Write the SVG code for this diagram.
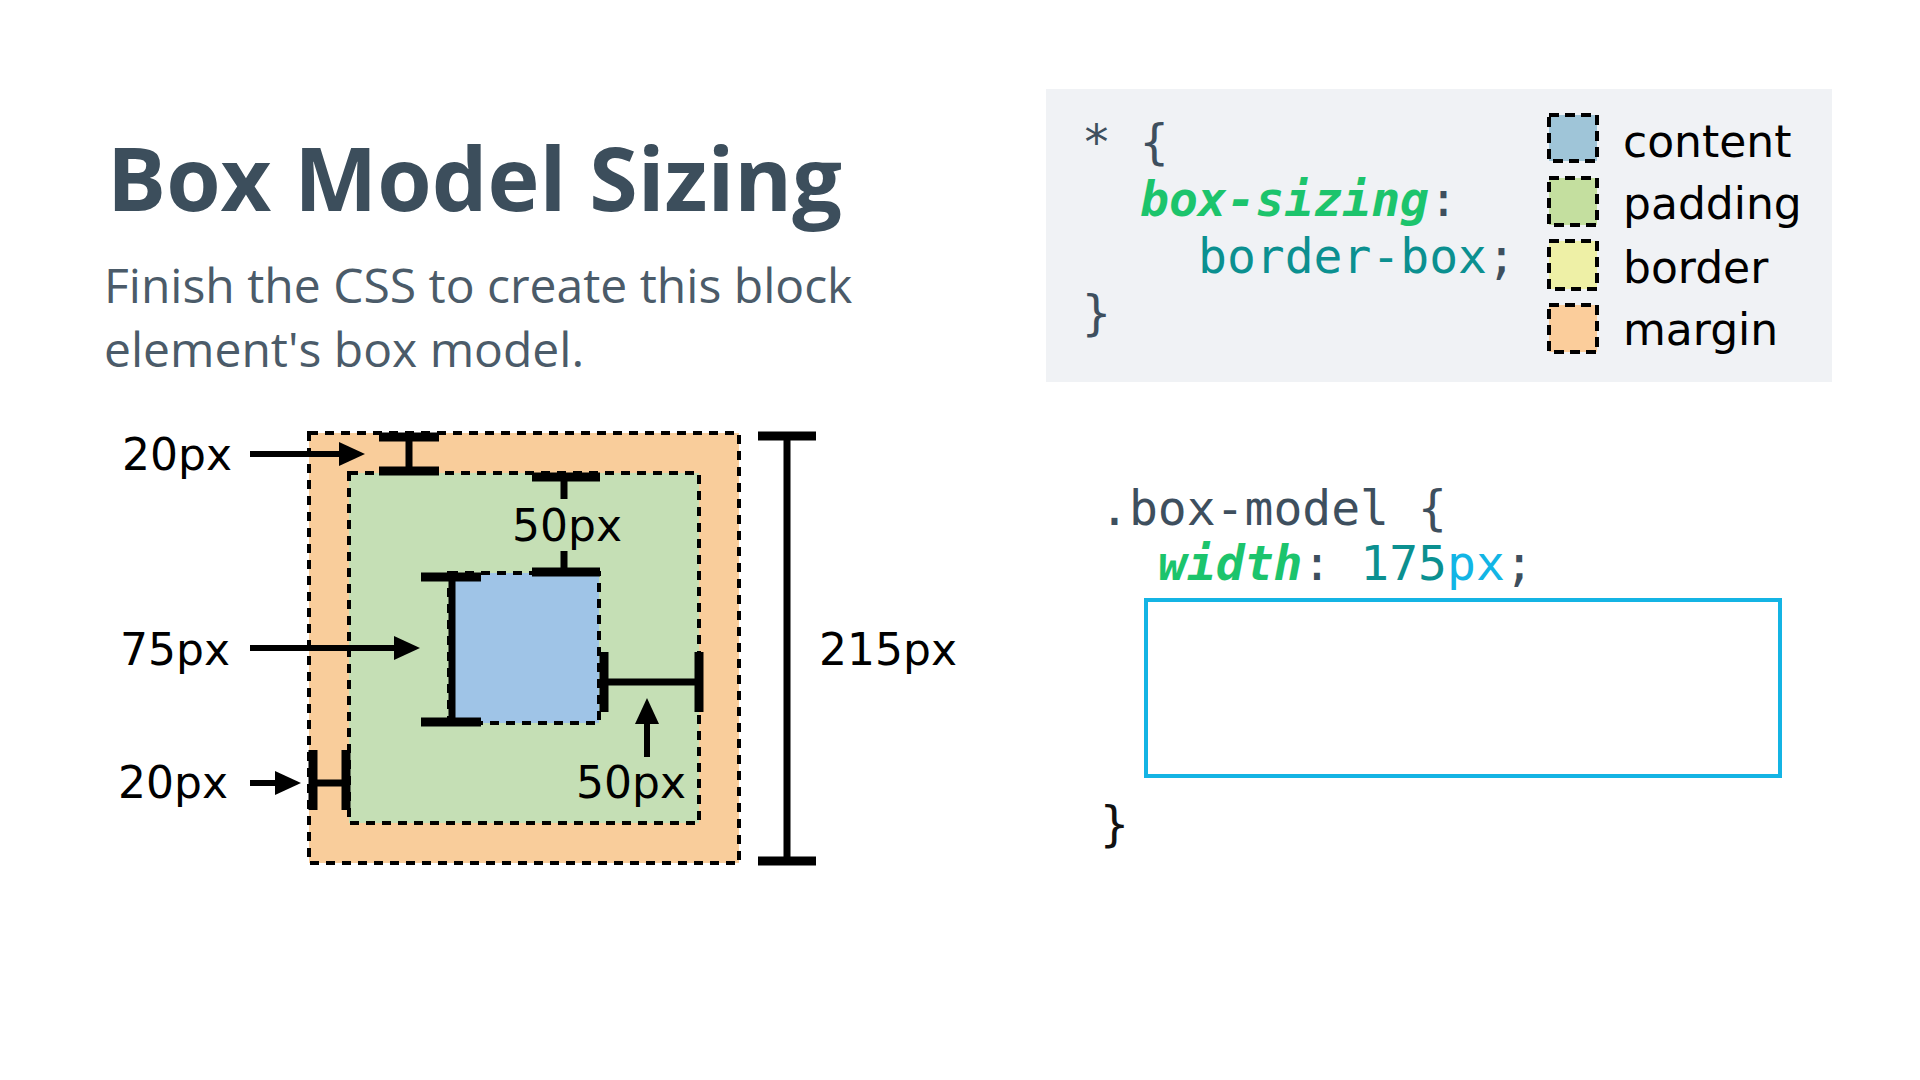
<svg xmlns="http://www.w3.org/2000/svg" width="1920" height="1080" viewBox="0 0 1920 1080">
  <defs>
    <style>
      .title { font-family: "Open Sans", "Noto Sans", sans-serif; font-weight: 700; font-size: 88px; fill: #3c4e5c; }
      .sub { font-family: "Open Sans", "Noto Sans", sans-serif; font-weight: 400; font-size: 48px; fill: #4b5b69; }
      .code { font-family: "DejaVu Sans Mono", "Liberation Mono", monospace; font-size: 48px; fill: #3e4f5e; }
      .prop { font-weight: 700; font-style: italic; fill: #1cc46c; }
      .teal { fill: #0b9090; }
      .cyan { fill: #12b5e5; }
      .lbl { font-family: "Comic Sans MS", "DejaVu Sans", sans-serif; font-size: 44px; fill: #000; }
      .dash { stroke: #000; stroke-width: 4; stroke-dasharray: 9 7; }
      .ldash { stroke: #000; stroke-width: 4; stroke-dasharray: 10 6; }
      .bar { stroke: #000; stroke-width: 9; fill: none; }
      .stem { stroke: #000; stroke-width: 7; fill: none; }
      .arr { stroke: #000; stroke-width: 6; fill: none; marker-end: url(#head); }
    </style>
    <marker id="head" markerUnits="userSpaceOnUse" markerWidth="26" markerHeight="24" refX="2" refY="12" orient="auto">
      <path d="M0,0 L26,12 L0,24 Z" fill="#000"/>
    </marker>
  </defs>

  <rect width="1920" height="1080" fill="#ffffff"/>

  <g id="title">
    <text class="title" x="107" y="211">Box Model Sizing</text>
  </g>
  <g id="subtitle">
    <text class="sub" x="104" y="303">Finish the CSS to create this block</text>
    <text class="sub" x="104" y="367">element's box model.</text>
  </g>

  <!-- Box model diagram -->
  <g id="margin-box">
    <rect x="309" y="433" width="430" height="430" fill="#f9cd9b" class="dash"/>
  </g>
  <g id="padding-box">
    <rect x="349" y="473" width="350" height="350" fill="#c5dfb5" class="dash"/>
  </g>
  <g id="content-box">
    <rect x="449" y="573" width="150" height="150" fill="#9fc4e7" class="dash"/>
  </g>

  <g id="connectors">
    <!-- top margin I-beam -->
    <line class="bar" x1="379" y1="437" x2="439" y2="437"/>
    <line class="bar" x1="379" y1="471" x2="439" y2="471"/>
    <line class="stem" x1="409" y1="437" x2="409" y2="471"/>
    <!-- top padding measure -->
    <line class="bar" x1="532" y1="477" x2="600" y2="477"/>
    <line class="stem" x1="564" y1="477" x2="564" y2="499"/>
    <line class="stem" x1="564" y1="551" x2="564" y2="572"/>
    <line class="bar" x1="532" y1="572" x2="600" y2="572"/>
    <!-- content height I-beam -->
    <line class="bar" x1="421" y1="577" x2="481" y2="577"/>
    <line class="bar" x1="421" y1="722" x2="481" y2="722"/>
    <line class="stem" x1="452" y1="577" x2="452" y2="722"/>
    <!-- right padding H -->
    <line class="bar" x1="604" y1="652" x2="604" y2="712"/>
    <line class="bar" x1="699" y1="652" x2="699" y2="712"/>
    <line class="stem" x1="604" y1="682" x2="699" y2="682"/>
    <!-- left margin H -->
    <line class="bar" x1="313" y1="750" x2="313" y2="810"/>
    <line class="bar" x1="346" y1="750" x2="346" y2="810"/>
    <line class="stem" x1="313" y1="783" x2="346" y2="783"/>
    <!-- total height I-beam -->
    <line class="bar" x1="758" y1="436" x2="816" y2="436"/>
    <line class="bar" x1="758" y1="861" x2="816" y2="861"/>
    <line class="stem" x1="787" y1="436" x2="787" y2="861"/>
    <!-- arrows -->
    <line class="arr" x1="250" y1="454" x2="341" y2="454"/>
    <line class="arr" x1="250" y1="648" x2="396" y2="648"/>
    <line class="arr" x1="250" y1="783" x2="277" y2="783"/>
    <line class="arr" x1="647" y1="757" x2="647" y2="722"/>
  </g>

  <g id="label-20-top"><text class="lbl" x="122" y="470">20px</text></g>
  <g id="label-50-top"><text class="lbl" x="512" y="541">50px</text></g>
  <g id="label-75"><text class="lbl" x="120" y="665">75px</text></g>
  <g id="label-50-right"><text class="lbl" x="576" y="798">50px</text></g>
  <g id="label-20-left"><text class="lbl" x="118" y="798">20px</text></g>
  <g id="label-215"><text class="lbl" x="819" y="665">215px</text></g>

  <!-- Code panel -->
  <g id="code-panel">
    <rect x="1046" y="89" width="786" height="293" fill="#f0f2f5"/>
    <text class="code" x="1082" y="159">* {</text>
    <text class="code" x="1140" y="216"><tspan class="prop">box-sizing</tspan>:</text>
    <text class="code teal" x="1198" y="273">border-box<tspan fill="#3e4f5e">;</tspan></text>
    <text class="code" x="1082" y="330">}</text>
  </g>

  <g id="legend-content">
    <rect x="1549" y="115" width="48" height="46" fill="#9fc5d8" class="ldash"/>
    <text class="lbl" x="1623" y="157">content</text>
  </g>
  <g id="legend-padding">
    <rect x="1549" y="178" width="48" height="47" fill="#c4df9f" class="ldash"/>
    <text class="lbl" x="1623" y="219">padding</text>
  </g>
  <g id="legend-border">
    <rect x="1549" y="241" width="48" height="48" fill="#eef0a6" class="ldash"/>
    <text class="lbl" x="1623" y="283">border</text>
  </g>
  <g id="legend-margin">
    <rect x="1549" y="305" width="48" height="47" fill="#fbcd9b" class="ldash"/>
    <text class="lbl" x="1623" y="345">margin</text>
  </g>

  <g id="answer-code">
    <text class="code" x="1100" y="525">.box-model {</text>
    <text class="code" x="1158" y="580"><tspan class="prop">width</tspan>: <tspan class="teal">175</tspan><tspan class="cyan">px</tspan>;</text>
    <rect x="1146" y="600" width="634" height="176" fill="#ffffff" stroke="#14b4e4" stroke-width="4"/>
    <text class="code" x="1100" y="841" style="fill:#111111">}</text>
  </g>
</svg>
